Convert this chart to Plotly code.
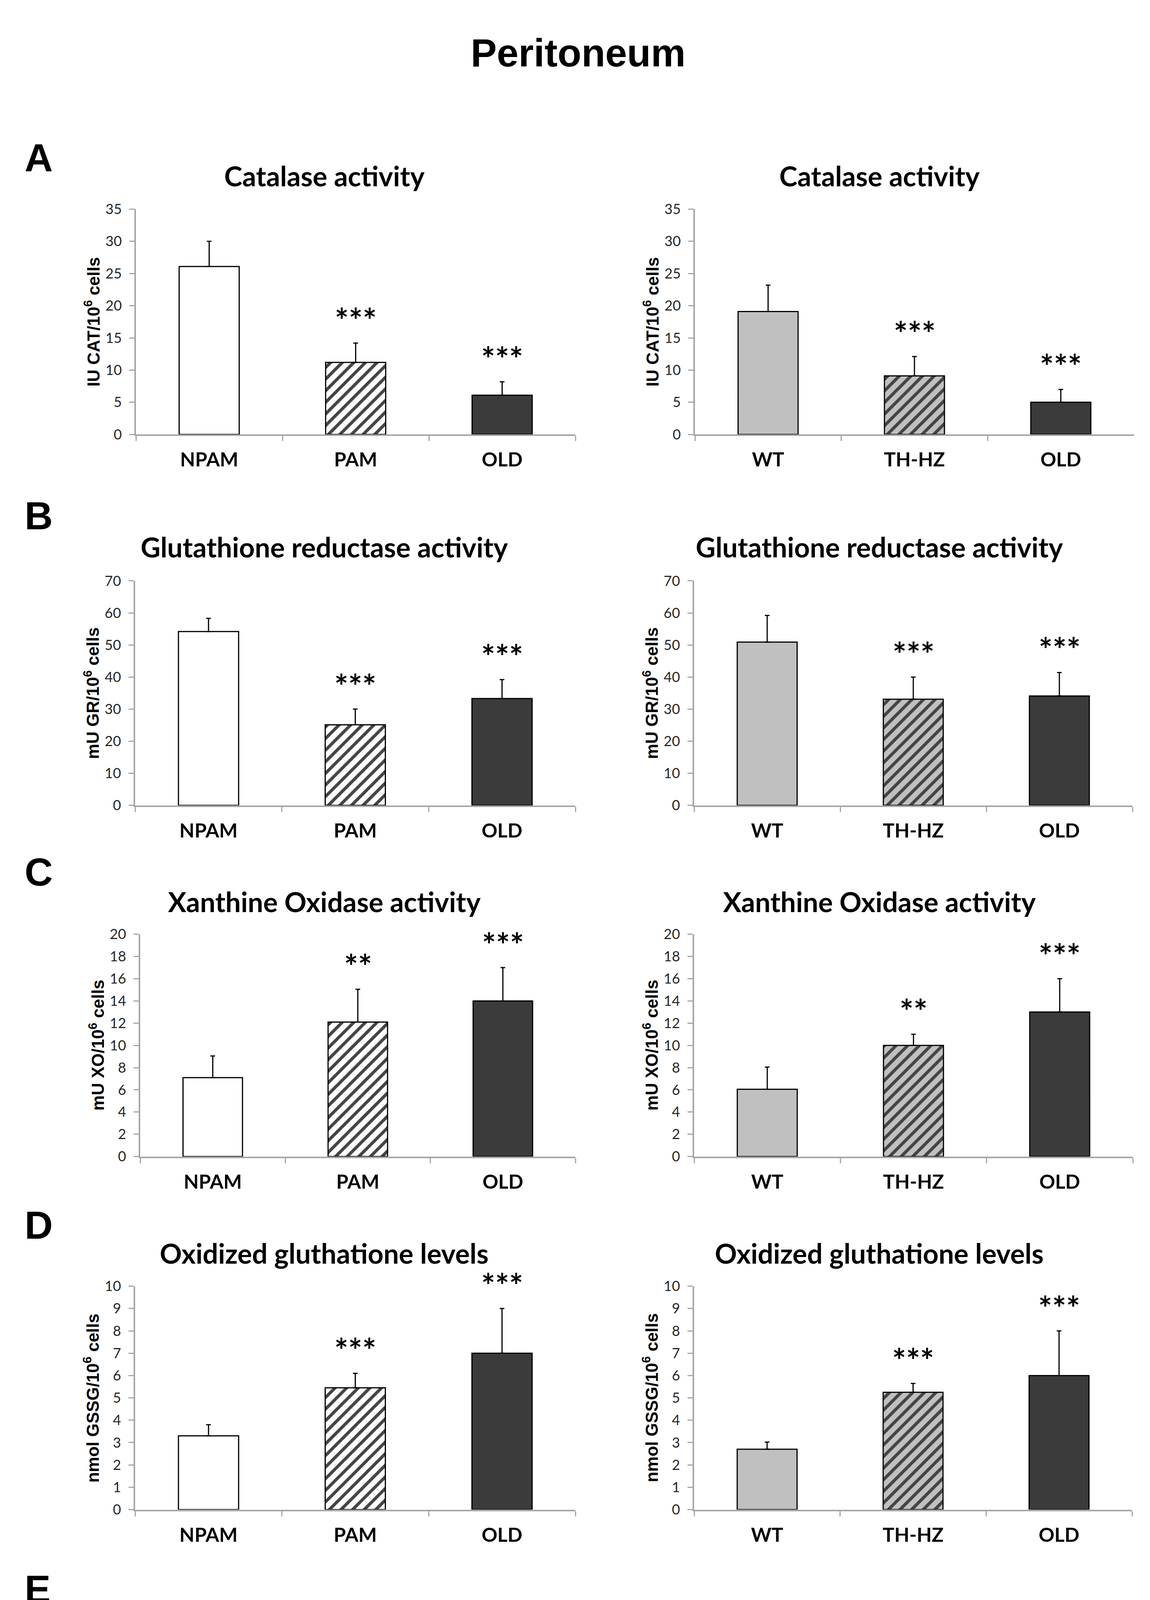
import plotly.graph_objects as go

W, H = 2944, 4934

# ---------------- data ----------------
groups_left = ["NPAM", "PAM", "OLD"]
groups_right = ["WT", "TH-HZ", "OLD"]

panel_letters = ["A", "B", "C", "D", "E"]
panel_titles = ["Catalase activity", "Glutathione reductase activity",
                "Xanthine Oxidase activity", "Oxidized gluthatione levels",
                "GSSG/GSH ratio"]
y_titles = ["IU CAT/10<sup>6</sup> cells", "mU GR/10<sup>6</sup> cells",
            "mU XO/10<sup>6</sup> cells", "nmol GSSG/10<sup>6</sup> cells",
            "GSSG/GSH"]

cat_left_mean = [26.1, 11.2, 6.1]
cat_left_err = [3.9, 3.0, 2.1]
cat_right_mean = [19.1, 9.1, 5.0]
cat_right_err = [4.1, 3.0, 2.0]

gr_left_mean = [54.2, 25.1, 33.3]
gr_left_err = [4.1, 4.9, 5.9]
gr_right_mean = [50.9, 33.1, 34.1]
gr_right_err = [8.3, 6.9, 7.3]

xo_left_mean = [7.1, 12.1, 14.0]
xo_left_err = [1.95, 2.95, 3.0]
xo_right_mean = [6.05, 10.0, 13.0]
xo_right_err = [2.0, 1.0, 3.0]

gssg_left_mean = [3.3, 5.45, 7.0]
gssg_left_err = [0.5, 0.65, 2.0]
gssg_right_mean = [2.7, 5.25, 6.0]
gssg_right_err = [0.32, 0.4, 2.0]

ratio_left_mean = [0.20, 0.53, 0.68]
ratio_left_err = [0.087, 0.08, 0.118]
ratio_right_mean = [0.33, 0.45, 0.70]
ratio_right_err = [0.07, 0.117, 0.145]

sig_cat = ["", "***", "***"]
sig_gr = ["", "***", "***"]
sig_xo = ["", "**", "***"]
sig_gssg = ["", "***", "***"]
sig_ratio = ["", "***", "***"]

y_max = [35, 70, 20, 10, 1]
y_dtick = [5, 10, 2, 1, 0.2]
ratio_ticks = [0, 0.2, 0.4, 0.6, 0.8, 1]
ratio_ticktext = ["0", "0,2", "0,4", "0,6", "0,8", "1"]

left_means = [cat_left_mean, gr_left_mean, xo_left_mean, gssg_left_mean, ratio_left_mean]
left_errs = [cat_left_err, gr_left_err, xo_left_err, gssg_left_err, ratio_left_err]
right_means = [cat_right_mean, gr_right_mean, xo_right_mean, gssg_right_mean, ratio_right_mean]
right_errs = [cat_right_err, gr_right_err, xo_right_err, gssg_right_err, ratio_right_err]
sigs = [sig_cat, sig_gr, sig_xo, sig_gssg, sig_ratio]

# ---------------- styles / layout geometry (pixels) ----------------
left_colors = ["#ffffff", "#ffffff", "#3b3b3b"]
right_colors = ["#c0c0c0", "#c0c0c0", "#3b3b3b"]
hatch = ["", "/", ""]
AX = "#a6a6a6"
TXT = "Lato"
ARIAL = "Liberation Sans"

# rows: plot top, plot bottom, left x0, left x1, right x0, right x1, title y, letter y
geom = [
    (509, 1091, 340, 1465, 1771, 2895, 423, 376),
    (1469, 2049, 338, 1465, 1769, 2891, 1381, 1301),
    (2382, 2956, 351, 1465, 1769, 2892, 2297, 2221),
    (3291, 3868, 338, 1465, 1769, 2890, 3206, 3133),
    (4238, 4806, 347, 1450, 1774, 2878, 4155, 4073),
]
title_x_left = 822
title_x_right = 2243

fig = go.Figure()
layout = dict(width=W, height=H, margin=dict(l=0, r=0, t=0, b=0),
              paper_bgcolor="white", plot_bgcolor="white", showlegend=False)
annotations = []

n = 0
for r in range(5):
    yt, yb, lx0, lx1, rx0, rx1, ty, ly = geom[r]
    for side in range(2):
        n += 1
        cats = groups_left if side == 0 else groups_right
        means = left_means[r] if side == 0 else right_means[r]
        errs = left_errs[r] if side == 0 else right_errs[r]
        colors = left_colors if side == 0 else right_colors
        x0, x1 = (lx0, lx1) if side == 0 else (rx0, rx1)
        xa = "x" if n == 1 else f"x{n}"
        ya = "y" if n == 1 else f"y{n}"
        fig.add_trace(go.Bar(
            x=cats, y=means, width=0.41, xaxis=xa, yaxis=ya,
            marker=dict(color=colors, line=dict(color="black", width=3),
                        pattern=dict(shape=hatch, fillmode="overlay",
                                     fgcolor="black", fgopacity=1,
                                     size=21, solidity=0.38)),
            error_y=dict(type="data", symmetric=False, array=errs,
                         arrayminus=[0] * len(errs), color="black",
                         thickness=3, width=6),
            hoverinfo="skip"))
        key = "" if n == 1 else str(n)
        layout["xaxis" + key] = dict(
            domain=[x0 / W, x1 / W], anchor=ya, type="category",
            range=[-0.5, 2.5], tickson="boundaries", ticks="outside",
            ticklen=13, tickwidth=3, tickcolor=AX, showline=True,
            linecolor=AX, linewidth=4, showgrid=False, zeroline=False,
            tickfont=dict(family=TXT, size=50, color="black", weight="bold"),
            ticklabelstandoff=18)
        yax = dict(
            domain=[1 - yb / H, 1 - yt / H], anchor=xa, range=[0, y_max[r]],
            tick0=0, dtick=y_dtick[r], ticks="outside", ticklen=13,
            tickwidth=3, tickcolor=AX, showline=True, linecolor=AX,
            linewidth=4, showgrid=False, zeroline=False,
            tickfont=dict(family=TXT, size=36, color="#262626"),
            ticklabelstandoff=12)
        if r == 4:
            yax.update(tickmode="array", tickvals=ratio_ticks,
                       ticktext=ratio_ticktext)
        layout["yaxis" + key] = yax
        # y axis title
        annotations.append(dict(
            text=y_titles[r], textangle=-90, xref="paper", yref="paper",
            x=(x0 - 112) / W, y=1 - ((yt + yb) / 2) / H,
            xanchor="center", yanchor="middle", showarrow=False,
            font=dict(family=ARIAL, size=44, color="black", weight="bold")))
        # panel title
        annotations.append(dict(
            text=panel_titles[r], xref="paper", yref="paper",
            x=(title_x_left if side == 0 else title_x_right) / W,
            y=1 - ty / H, xanchor="center", yanchor="middle",
            showarrow=False,
            font=dict(family=TXT, size=70, color="black", weight="bold")))
        # significance marks
        for c, m, e, s in zip(cats, means, errs, sigs[r]):
            if s:
                annotations.append(dict(
                    text=s, x=c, y=m + e, xref=xa, yref=ya,
                    xanchor="center", yanchor="middle", yshift=60,
                    showarrow=False,
                    font=dict(family=TXT, size=84, color="black",
                              weight="bold")))
    annotations.append(dict(
        text=panel_letters[r], xref="paper", yref="paper", x=53 / W,
        y=1 - ly / H, xanchor="left", yanchor="middle", showarrow=False,
        font=dict(family=ARIAL, size=100, color="black", weight="bold")))

annotations.append(dict(
    text="Peritoneum", xref="paper", yref="paper", x=1472 / W, y=1 - 105 / H,
    xanchor="center", yanchor="middle", showarrow=False,
    font=dict(family=ARIAL, size=100, color="black", weight="bold")))

layout["annotations"] = annotations
fig.update_layout(**layout)
fig.write_html("out.html")
